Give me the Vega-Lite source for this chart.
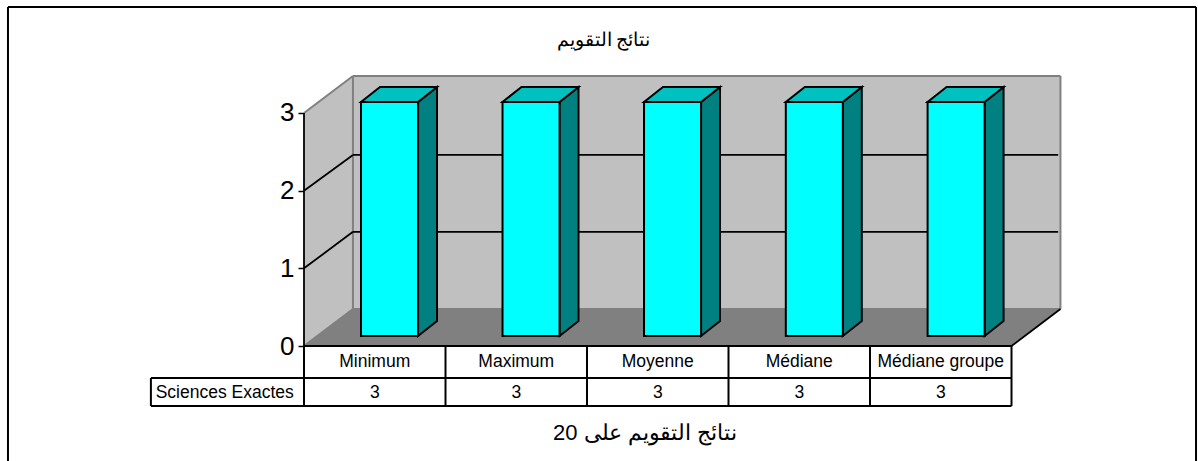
{
"$schema":"https://vega.github.io/schema/vega-lite/v6.json",
"width":1198,"height":461,"padding":0,"autosize":{"type":"none"},
"background":"white",
"config":{"view":{"stroke":null}},
"datasets":{
"walls":[
{"face":"left","x":0,"top":3,"base":0},
{"face":"left","x":0.346,"top":3.476,"base":0.476},
{"face":"back","x":0.346,"top":3.476,"base":0.476},
{"face":"back","x":5.346,"top":3.476,"base":0.476}],
"floor":[{"y":0,"x":0,"x2":5},{"y":0.476,"x":0.346,"x2":5.346}],
"grayEdges":[
{"x":0,"x2":0.346,"y":3,"y2":3.476},
{"x":0.346,"x2":5.346,"y":3.476,"y2":3.476},
{"x":0.346,"x2":0.346,"y":0.476,"y2":3.476},
{"x":5.346,"x2":5.346,"y":0.476,"y2":3.476},
{"x":0,"x2":0.346,"y":0,"y2":0.476},
{"x":0.346,"x2":5.346,"y":0.476,"y2":0.476}],
"gridLines":[
{"x":0.346,"x2":5.33,"y":1.47,"y2":1.47},
{"x":0.346,"x2":5.33,"y":2.46,"y2":2.46},
{"x":0,"x2":0.346,"y":1,"y2":1.47},
{"x":0,"x2":0.346,"y":2,"y2":2.46},
{"x":0,"x2":0,"y":0,"y2":3},
{"x":5,"x2":5.346,"y":0,"y2":0.476}],
"bars":[
{"category":"Minimum","value":3,"x0":0.403,"x1":0.806,"base":0.129,"top":3.142},
{"category":"Maximum","value":3,"x0":1.403,"x1":1.806,"base":0.129,"top":3.142},
{"category":"Moyenne","value":3,"x0":2.403,"x1":2.806,"base":0.129,"top":3.142},
{"category":"Médiane","value":3,"x0":3.405,"x1":3.808,"base":0.129,"top":3.142},
{"category":"Médiane groupe","value":3,"x0":4.407,"x1":4.81,"base":0.129,"top":3.142}],
"barSides":[
{"category":"Minimum","x":0.806,"top":3.142,"base":0.129},{"category":"Minimum","x":0.94,"top":3.335,"base":0.322},
{"category":"Maximum","x":1.806,"top":3.142,"base":0.129},{"category":"Maximum","x":1.94,"top":3.335,"base":0.322},
{"category":"Moyenne","x":2.806,"top":3.142,"base":0.129},{"category":"Moyenne","x":2.94,"top":3.335,"base":0.322},
{"category":"Médiane","x":3.808,"top":3.142,"base":0.129},{"category":"Médiane","x":3.942,"top":3.335,"base":0.322},
{"category":"Médiane groupe","x":4.81,"top":3.142,"base":0.129},{"category":"Médiane groupe","x":4.944,"top":3.335,"base":0.322}],
"barTops":[
{"category":"Minimum","y":3.142,"x":0.403,"x2":0.806},{"category":"Minimum","y":3.335,"x":0.537,"x2":0.94},
{"category":"Maximum","y":3.142,"x":1.403,"x2":1.806},{"category":"Maximum","y":3.335,"x":1.537,"x2":1.94},
{"category":"Moyenne","y":3.142,"x":2.403,"x2":2.806},{"category":"Moyenne","y":3.335,"x":2.537,"x2":2.94},
{"category":"Médiane","y":3.142,"x":3.405,"x2":3.808},{"category":"Médiane","y":3.335,"x":3.539,"x2":3.942},
{"category":"Médiane groupe","y":3.142,"x":4.407,"x2":4.81},{"category":"Médiane groupe","y":3.335,"x":4.541,"x2":4.944}],
"tableLines":[
{"x":0,"x2":5,"y":0,"y2":0},
{"x":-1.082,"x2":5,"y":-0.412,"y2":-0.412},
{"x":-1.082,"x2":5,"y":-0.7725,"y2":-0.7725},
{"x":-1.082,"x2":-1.082,"y":-0.412,"y2":-0.7725},
{"x":0,"x2":0,"y":0,"y2":-0.7725},
{"x":1,"x2":1,"y":0,"y2":-0.7725},
{"x":2,"x2":2,"y":0,"y2":-0.7725},
{"x":3,"x2":3,"y":0,"y2":-0.7725},
{"x":4,"x2":4,"y":0,"y2":-0.7725},
{"x":5,"x2":5,"y":0,"y2":-0.7725}],
"frame":[
{"x":-2.092,"x2":-2.092,"y":4.365,"y2":-1.4806},
{"x":6.304,"x2":6.304,"y":4.365,"y2":-1.4806},
{"x":-2.092,"x2":6.304,"y":4.365,"y2":4.365}],
"tableText":[
{"category":"Minimum","value":3,"pos":0.5},
{"category":"Maximum","value":3,"pos":1.5},
{"category":"Moyenne","value":3,"pos":2.5},
{"category":"Médiane","value":3,"pos":3.5},
{"category":"Médiane groupe","value":3,"pos":4.5}],
"rowHead":[{"label":"Sciences Exactes","x":-0.56,"y":-0.6}],
"titles":[
{"label":"نتائج التقويم","x":2.117,"y":3.94}],
"subtitle":[
{"label":"نتائج التقويم على 20","x":2.41,"y":-1.12}]
},
"layer":[
{"data":{"name":"walls"},"mark":{"type":"area","fill":"#C0C0C0","stroke":null},
 "encoding":{
 "x":{"field":"x","type":"quantitative","scale":{"domain":[-2.1484,6.318],"nice":false,"zero":false},"axis":null},
 "y":{"field":"top","type":"quantitative","scale":{"domain":[-1.4806,4.4548],"nice":false,"zero":false},
  "axis":{"orient":"left","offset":-304,"values":[0,1,2,3],"domain":false,"grid":false,"tickColor":"black","tickSize":6,"tickWidth":1.5,"labelFont":"Liberation Sans","labelFontSize":26,"labelColor":"black","labelPadding":4,"title":null,"format":"d"}},
 "y2":{"field":"base"},"detail":{"field":"face"}}},
{"data":{"name":"floor"},"mark":{"type":"area","orient":"horizontal","fill":"#808080"},
 "encoding":{"y":{"field":"y","type":"quantitative"},"x":{"field":"x","type":"quantitative"},"x2":{"field":"x2"}}},
{"data":{"name":"grayEdges"},"mark":{"type":"rule","color":"#808080","strokeWidth":2},
 "encoding":{"x":{"field":"x","type":"quantitative"},"x2":{"field":"x2"},"y":{"field":"y","type":"quantitative"},"y2":{"field":"y2"}}},
{"data":{"name":"gridLines"},"mark":{"type":"rule","color":"black","strokeWidth":1.8},
 "encoding":{"x":{"field":"x","type":"quantitative"},"x2":{"field":"x2"},"y":{"field":"y","type":"quantitative"},"y2":{"field":"y2"}}},
{"data":{"name":"barSides"},"mark":{"type":"area","fill":"#008080","stroke":"black","strokeWidth":2},
 "encoding":{"x":{"field":"x","type":"quantitative"},"y":{"field":"top","type":"quantitative"},"y2":{"field":"base"},"detail":{"field":"category"}}},
{"data":{"name":"barTops"},"mark":{"type":"area","orient":"horizontal","fill":"#00C0C0","stroke":"black","strokeWidth":2},
 "encoding":{"y":{"field":"y","type":"quantitative"},"x":{"field":"x","type":"quantitative"},"x2":{"field":"x2"},"detail":{"field":"category"}}},
{"data":{"name":"bars"},"mark":{"type":"rect","fill":"#00FFFF","stroke":"black","strokeWidth":2},
 "encoding":{"x":{"field":"x0","type":"quantitative"},"x2":{"field":"x1"},"y":{"field":"base","type":"quantitative"},"y2":{"field":"top"}}},
{"data":{"name":"tableLines"},"mark":{"type":"rule","color":"black","strokeWidth":2},
 "encoding":{"x":{"field":"x","type":"quantitative"},"x2":{"field":"x2"},"y":{"field":"y","type":"quantitative"},"y2":{"field":"y2"}}},
{"data":{"name":"frame"},"mark":{"type":"rule","color":"black","strokeWidth":2},
 "encoding":{"x":{"field":"x","type":"quantitative"},"x2":{"field":"x2"},"y":{"field":"y","type":"quantitative"},"y2":{"field":"y2"}}},
{"data":{"name":"tableText"},"mark":{"type":"text","font":"Liberation Sans","fontSize":17.5,"color":"black","baseline":"middle","align":"center"},
 "encoding":{"x":{"field":"pos","type":"quantitative"},"y":{"datum":-0.2},"text":{"field":"category"}}},
{"data":{"name":"tableText"},"mark":{"type":"text","font":"Liberation Sans","fontSize":17.5,"color":"black","baseline":"middle","align":"center"},
 "encoding":{"x":{"field":"pos","type":"quantitative"},"y":{"datum":-0.6},"text":{"field":"value","type":"quantitative"}}},
{"data":{"name":"rowHead"},"mark":{"type":"text","font":"Liberation Sans","fontSize":17.5,"color":"black","baseline":"middle","align":"center"},
 "encoding":{"x":{"field":"x","type":"quantitative"},"y":{"field":"y","type":"quantitative"},"text":{"field":"label"}}},
{"data":{"name":"titles"},"mark":{"type":"text","font":"Liberation Serif","fontSize":19,"color":"black","baseline":"middle","align":"center"},
 "encoding":{"x":{"field":"x","type":"quantitative"},"y":{"field":"y","type":"quantitative"},"text":{"field":"label"}}},
{"data":{"name":"subtitle"},"mark":{"type":"text","font":"Liberation Sans","fontSize":22,"color":"black","baseline":"middle","align":"center"},
 "encoding":{"x":{"field":"x","type":"quantitative"},"y":{"field":"y","type":"quantitative"},"text":{"field":"label"}}}
]
}
